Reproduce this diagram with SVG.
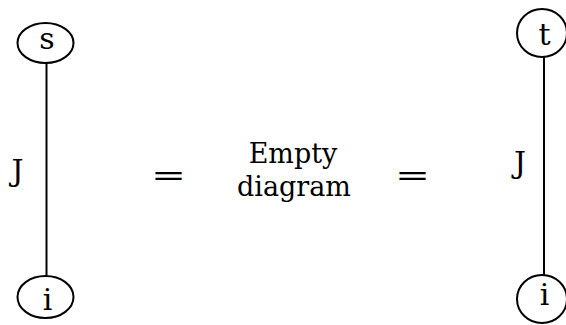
<svg xmlns="http://www.w3.org/2000/svg" width="566" height="325" viewBox="0 0 566 325">
<style>
.node ellipse{fill:#fff;stroke:#000;stroke-width:2}
.lbl{font-family:"DejaVu Serif","Liberation Serif",serif;font-size:30px;fill:#000;text-anchor:middle}
.txt{font-family:"DejaVu Serif","Liberation Serif",serif;font-size:27px;fill:#000;text-anchor:middle}
.edge{stroke:#000;stroke-width:2;fill:none}
</style>
<rect width="566" height="325" fill="#fff"/>
<g id="connectors">
<line class="edge" x1="46.5" y1="63" x2="46.5" y2="276"/>
<line class="edge" x1="544" y1="56" x2="544" y2="276"/>
</g>
<g id="node-s" class="node"><ellipse cx="45.5" cy="43" rx="28" ry="20"/><text class="lbl" x="47" y="49">s</text></g>
<g id="node-i-left" class="node"><ellipse cx="45.5" cy="297" rx="28" ry="21"/><text class="lbl" x="47.5" y="310">i</text></g>
<g id="node-t" class="node"><ellipse cx="542" cy="33" rx="25" ry="24"/><text class="lbl" x="544.5" y="45">t</text></g>
<g id="node-i-right" class="node"><ellipse cx="542" cy="299" rx="25" ry="24"/><text class="lbl" x="544.5" y="305">i</text></g>
<g id="labels">
<text class="lbl" x="17.5" y="181">J</text>
<text class="lbl" x="520" y="173">J</text>
<text class="txt" x="293" y="163">Empty</text>
<text class="txt" x="294" y="196">diagram</text>
<text class="txt" transform="translate(168.5 185) scale(1.55 1)" x="0" y="0">=</text>
<text class="txt" transform="translate(412.5 185) scale(1.55 1)" x="0" y="0">=</text>
</g>
</svg>
